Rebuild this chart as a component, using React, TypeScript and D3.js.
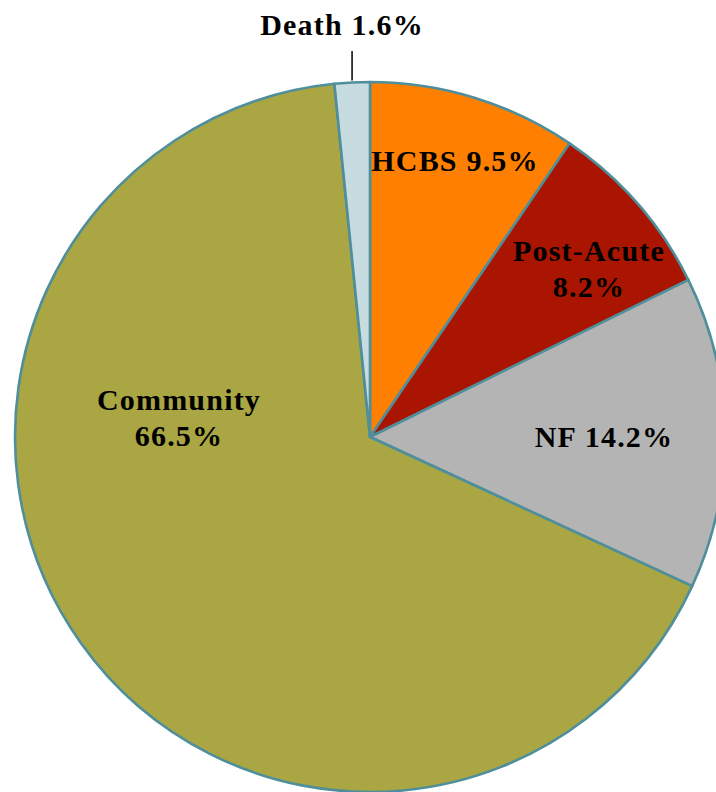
import React from "react";
import * as d3 from "d3";

// Discharge destinations, clockwise from 12 o'clock
const categories = ["HCBS", "Post-Acute", "NF", "Community", "Death"];
const shares = [9.5, 8.2, 14.2, 66.5, 1.6];
const labelLines = [["HCBS 9.5%"], ["Post-Acute", "8.2%"], ["NF 14.2%"], ["Community", "66.5%"], ["Death 1.6%"]];
const colors = ["#FF8000", "#A91500", "#B4B4B4", "#A9A643", "#C6DCE1"];

const W = 716;
const H = 792;
const cx = 370;
const cy = 437;
const R = 355;

// label anchor points (center of first line) for each slice
const labelAnchors: [number, number][] = [
  [455, 171],
  [589, 261],
  [604, 447],
  [179, 410],
  [342, 35],
];

export default function App() {
  const pie = d3
    .pie<number>()
    .sort(null)
    .value((d) => d);
  const arcs = pie(shares);
  const arc = d3.arc<d3.PieArcDatum<number>>().innerRadius(0).outerRadius(R);
  const fontSize = 30;
  const lineH = 36;

  // leader line for the thin Death slice
  const death = arcs[4];
  const deathMid = (death.startAngle + death.endAngle) / 2;
  const lx = cx + Math.sin(deathMid) * (R + 2);
  const ly = cy - Math.cos(deathMid) * (R + 2);

  return (
    <svg
      width={W}
      height={H}
      style={{ position: "absolute", left: 0, top: 0, display: "block" }}
    >
      <rect width={W} height={H} fill="#ffffff" />
      <g transform={`translate(${cx},${cy})`}>
        {arcs.map((a, i) => (
          <path
            key={categories[i]}
            d={arc(a) || ""}
            fill={colors[i]}
            stroke="#4F8E9B"
            strokeWidth={2.6}
            strokeLinejoin="round"
          />
        ))}
      </g>
      <line x1={lx} y1={ly} x2={lx} y2={51} stroke="#000" strokeWidth={1.5} />
      {labelLines.map((lines, i) => (
        <text
          key={categories[i]}
          x={labelAnchors[i][0]}
          y={labelAnchors[i][1]}
          textAnchor="middle"
          fontFamily="'Palatino Linotype', 'Book Antiqua', Palatino, 'Liberation Serif', serif"
          fontWeight="bold"
          fontSize={fontSize}
          letterSpacing={1.2}
          fill="#000"
        >
          {lines.map((t, j) => (
            <tspan key={j} x={labelAnchors[i][0]} dy={j === 0 ? 0 : lineH}>
              {t}
            </tspan>
          ))}
        </text>
      ))}
    </svg>
  );
}
